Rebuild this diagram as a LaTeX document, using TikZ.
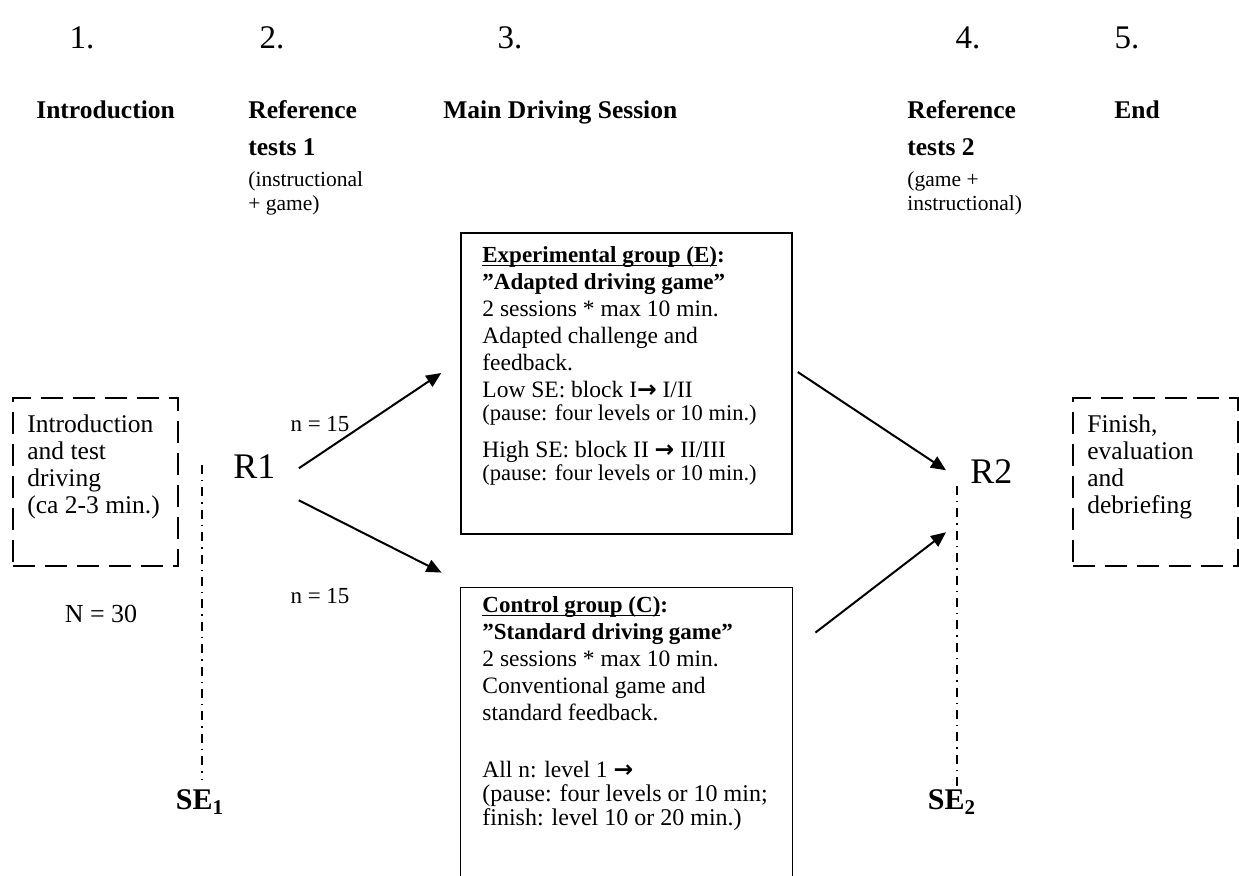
\documentclass[tikz,border=0pt]{standalone}
\usepackage{fontspec}
\setmainfont{Liberation Serif}
\newfontfamily\symfont{DejaVu Sans}
\usetikzlibrary{arrows.meta}
\newcommand{\arw}{{\symfont\bfseries →}}
\newcommand{\uln}[1]{\underline{\smash{#1}}\vphantom{(}}
\newcommand{\smallA}{\fontsize{11.25}{12}\selectfont}
\newcommand{\smallB}{\fontsize{12}{12.5}\selectfont}
\newcommand{\bfl}{\fontsize{11.5}{13.5}\selectfont\bfseries}
\begin{document}
\begin{tikzpicture}[x=0.5pt,y=-0.5pt,
  num/.style={font=\fontsize{16.5}{19}\selectfont, anchor=base, inner sep=0pt},
  head/.style={font=\fontsize{12.75}{18.5}\selectfont\bfseries, align=left, anchor=north west, inner sep=0pt},
  subhead/.style={font=\fontsize{10.75}{12}\selectfont, align=left, anchor=north west, inner sep=0pt},
  boxtxt/.style={font=\fontsize{12.75}{13.5}\selectfont, align=left, anchor=north west, inner sep=0pt},
  maintxt/.style={font=\fontsize{11.75}{13.5}\selectfont, align=left, anchor=north west, inner sep=0pt},
  plain/.style={font=\fontsize{11.5}{13}\selectfont, anchor=base, inner sep=0pt},
  rlab/.style={font=\fontsize{18}{20}\selectfont, anchor=base west, inner sep=0pt},
  selab/.style={font=\fontsize{15}{17}\selectfont\bfseries, anchor=base, inner sep=0pt},
  dbox/.style={draw, line width=1pt, dash pattern=on 11pt off 5pt, inner sep=0pt},
  sbox/.style={draw, line width=0.75pt, inner sep=0pt},
  boxline/.style={line width=0.75pt},
  arr/.style={line width=1pt, -{Triangle[length=7.5pt,width=6.5pt]}},
  dd/.style={line width=0.6pt, dash pattern=on 4.5pt off 3pt on 0.7pt off 3pt},
]
\useasboundingbox (0,0) rectangle (1239,876);

% step numbers
\node[num] (n1) at (82,49) {1.};
\node[num] (n2) at (272,49) {2.};
\node[num] (n3) at (510,49) {3.};
\node[num] (n4) at (968,49) {4.};
\node[num] (n5) at (1127,49) {5.};

% headings
\node[head] (hintro) at (36,100) {Introduction};
\node[head] (hrefA) at (248,100) {Reference\\tests 1};
\node[head] (hmain) at (443,100) {Main Driving Session};
\node[head] (hrefB) at (907,100) {Reference\\tests 2};
\node[head] (hend) at (1114,100) {End};
\node[subhead] (subA) at (248,171) {(instructional\\+ game)};
\node[subhead] (subB) at (907,171) {(game +\\instructional)};

% introduction box
\node[dbox, minimum width=82.5pt, minimum height=84pt] (ibox) at (95.5,482) {};
\node[boxtxt] (itxt) at (27,414) {Introduction\\and test\\driving\\(ca 2-3 min.)};
\node[font=\fontsize{13}{14}\selectfont, anchor=base, inner sep=0pt] (ntot) at (101,623) {N = 30};

% end box
\node[dbox, minimum width=82.5pt, minimum height=84pt] (ebx) at (1155.5,482) {};
\node[boxtxt] (etx) at (1087,414) {Finish,\\evaluation\\and\\debriefing};

% R labels
\node[rlab] (r1) at (233,479) {R1};
\node[rlab] (r2) at (970,484) {R2};

% SE lines
\coordinate (se1top) at (202,465);
\coordinate (se1bot) at (202,780);
\coordinate (se2top) at (957,486);
\coordinate (se2bot) at (957,788);
\draw[dd] (se1top) -- (se1bot);
\draw[dd] (se2top) -- (se2bot);
\node[selab] (se1) at (200,810) {SE\textsubscript{1}};
\node[selab] (se2) at (952,810) {SE\textsubscript{2}};

% experimental box
\node[sbox, minimum width=165.5pt, minimum height=150.5pt] (ebox) at (626.5,383.5) {};
\node[maintxt] (etxt) at (482,246) {{\bfl\uln{Experimental group (E)}:}\\
{\bfl ”Adapted driving game”}\\
2 sessions * max 10 min.\\
Adapted challenge and\\
feedback.\\
Low SE: block I\arw{} I/II\\[-2pt]
{\smallA (pause: four levels or 10 min.)}\\[5pt]
High SE: block II \arw{} II/III\\[-2pt]
{\smallA (pause: four levels or 10 min.)}};

% control box (bottom edge outside the picture)
\node[inner sep=0pt, minimum width=165.5pt, minimum height=144.5pt] (cbox) at (626.5,732.5) {};
\draw[boxline] (cbox.south west) -- (cbox.north west) -- (cbox.north east) -- (cbox.south east);
\node[maintxt] (ctxt) at (482,596) {{\bfl\uln{Control group (C)}:}\\
{\bfl ”Standard driving game”}\\
2 sessions * max 10 min.\\
Conventional game and\\
standard feedback.\\[15pt]
All n: level 1 \arw\\[-1.5pt]
{\smallB (pause: four levels or 10 min;}\\[-1.5pt]
{\smallB finish: level 10 or 20 min.)}};

% group sizes
\node[plain] (nA) at (320,432) {n = 15};
\node[plain] (nB) at (320,604) {n = 15};

% arrows
\draw[arr] ([shift={(23,1.2)}]r1.east) -- ([shift={(-19,-10.5)}]ebox.west);
\draw[arr] ([shift={(23,33.2)}]r1.east) -- ([shift={(-19,-15)}]cbox.north west);
\draw[arr] ([shift={(5,-11.5)}]ebox.east) -- ([shift={(-24,-1.8)}]r2.west);
\draw[arr] ([shift={(23,45)}]cbox.north east) -- ([shift={(-24,60.2)}]r2.west);
\end{tikzpicture}
\end{document}
